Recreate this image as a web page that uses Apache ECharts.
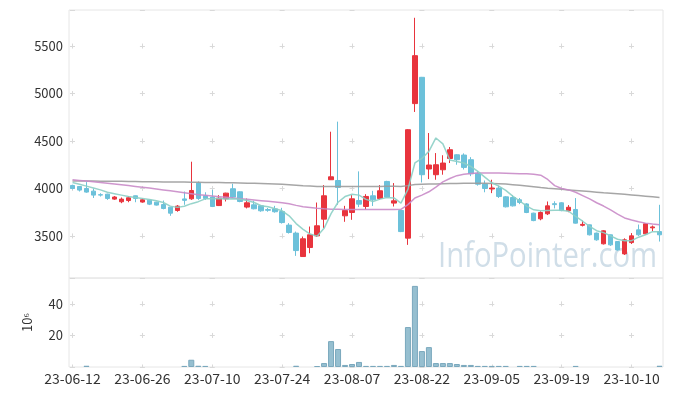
<!DOCTYPE html>
<html><head><meta charset="utf-8">
<script src="https://cdn.jsdelivr.net/npm/echarts@6/dist/echarts.min.js"></script>
<style>html,body{margin:0;padding:0;background:#fff}#c{width:673px;height:396px}</style>
</head><body><div id="c"></div>
<script>
const dates = ['23-06-12','23-06-13','23-06-14','23-06-15','23-06-16','23-06-19','23-06-20','23-06-21','23-06-22','23-06-23',
'23-06-26','23-06-27','23-06-28','23-06-29','23-06-30','23-07-03','23-07-04','23-07-05','23-07-06','23-07-07',
'23-07-10','23-07-11','23-07-12','23-07-13','23-07-14','23-07-17','23-07-18','23-07-19','23-07-20','23-07-21',
'23-07-24','23-07-25','23-07-26','23-07-27','23-07-28','23-07-31','23-08-01','23-08-02','23-08-03','23-08-04',
'23-08-07','23-08-08','23-08-09','23-08-10','23-08-11','23-08-14','23-08-16','23-08-17','23-08-18','23-08-21',
'23-08-22','23-08-23','23-08-24','23-08-25','23-08-28','23-08-29','23-08-30','23-08-31','23-09-01','23-09-04',
'23-09-05','23-09-06','23-09-07','23-09-08','23-09-11','23-09-12','23-09-13','23-09-14','23-09-15','23-09-18',
'23-09-19','23-09-20','23-09-21','23-09-22','23-09-25','23-09-26','23-09-27','23-10-04','23-10-05','23-10-06',
'23-10-10','23-10-11','23-10-12','23-10-13','23-10-16'];

const opens = [4032,4021,4000,3972,3935,3940,3888,3860,3873,3923, 3857,3877,3856,3831,3803,3768,3890,3891,4057,3923,
3910,3820,3891,3997,3965,3804,3828,3818,3778,3785, 3757,3614,3530,3283,3378,3501,3677,4092,4084,3712,
3747,3873,3810,3923,3894,4074,3846,3768,3477,4894, 5171,4205,4145,4197,4316,4355,4352,4303,4160,4046,
3995,4004,3912,3905,3881,3837,3740,3680,3733,3840, 3849,3766,3779,3612,3617,3530,3417,3512,3441,3311,
3430,3564,3522,3585,3546];
const closes = [4000,3983,3962,3930,3930,3895,3910,3888,3902,3895, 3881,3835,3825,3789,3740,3814,3875,3979,3895,3895,
3810,3898,3951,3909,3863,3849,3786,3765,3770,3755, 3641,3536,3346,3470,3512,3607,3923,4123,4011,3768,
3891,3835,3916,3881,3976,3909,3870,3546,4619,5399, 4145,4247,4250,4268,4408,4303,4222,4155,4045,4000,
4005,3916,3807,3817,3853,3747,3662,3747,3817,3830, 3767,3802,3635,3622,3512,3459,3554,3406,3353,3459,
3501,3512,3628,3595,3512];
const lows = [3990,3968,3955,3900,3915,3880,3880,3845,3855,3855, 3850,3825,3820,3780,3712,3755,3828,3880,3880,3880,
3804,3815,3863,3900,3855,3790,3780,3755,3755,3745, 3630,3525,3290,3280,3318,3490,3582,4090,3828,3649,
3670,3804,3780,3815,3880,3900,3810,3540,3406,4806, 4063,4099,4092,4145,4268,4250,4200,4130,4030,3960,
3951,3900,3800,3810,3835,3740,3655,3665,3720,3790, 3760,3750,3630,3600,3505,3450,3410,3395,3345,3300,
3415,3500,3515,3550,3441];
const highs = [4040,4025,4067,4000,3950,3945,3920,3905,3920,3925, 3895,3880,3860,3873,3805,3825,3968,4282,4074,3960,
3986,3930,3955,4050,3970,3894,3870,3825,3795,3817, 3796,3635,3546,3494,3599,3852,4036,4598,4704,3817,
3930,4180,3940,3975,4036,4081,4057,3775,4625,5798, 5175,4584,4373,4350,4437,4360,4370,4330,4180,4084,
4092,4030,3920,3930,3900,3845,3745,3760,3863,3865, 3855,3825,3899,3660,3620,3535,3560,3515,3445,3475,
3530,3620,3630,3610,3828];
const ma5 = [4063,4045,4025,4005,3985,3960,3945,3930,3915,3905, 3895,3885,3870,3852,3814,3801,3812,3840,3861,3891,
3891,3895,3890,3893,3886,3874,3852,3818,3807,3787, 3765,3712,3630,3570,3520,3498,3580,3735,3855,3915,
3940,3930,3885,3862,3888,3905,3900,3846,3990,4269, 4316,4391,4532,4470,4300,4285,4268,4232,4180,4120,
4060,4025,3980,3920,3868,3815,3775,3765,3768,3770, 3770,3760,3705,3655,3600,3555,3535,3500,3465,3450,
3450,3487,3512,3545,3545];
const ma20 = [4092,4085,4078,4071,4064,4056,4048,4040,4031,4022, 4013,4004,3995,3985,3975,3965,3955,3945,3935,3928,
3921,3914,3907,3900,3893,3886,3879,3872,3865,3858, 3850,3838,3822,3808,3800,3792,3786,3782,3780,3778,
3778,3778,3778,3778,3778,3778,3778,3780,3830,3900, 3930,3965,4015,4070,4105,4135,4150,4158,4162,4162,
4162,4162,4160,4158,4156,4154,4150,4140,4095,4030, 4000,3985,3960,3925,3890,3850,3815,3775,3730,3690,
3668,3650,3635,3625,3617];
const ma60 = [4080,4079,4079,4078,4077,4077,4076,4075,4074,4073, 4072,4071,4070,4069,4068,4068,4067,4066,4065,4064,
4063,4062,4061,4060,4058,4056,4054,4052,4050,4048, 4045,4040,4035,4030,4026,4022,4020,4020,4020,4020,
4020,4020,4021,4021,4022,4023,4023,4020,4030,4042, 4045,4047,4048,4050,4052,4053,4054,4055,4055,4054,
4052,4050,4046,4040,4033,4026,4018,4010,4003,3997, 3991,3985,3979,3973,3967,3961,3955,3950,3944,3938,
3932,3926,3919,3912,3905];
const volumes = [0,0,0.8,0,0,0,0,0,0,0, 0,0,0,0,0,0,0.7,4.6,0.8,0.7,
0,0,0,0,0,0,0,0,0,0, 0,0,0.8,0,0,0.6,2.5,16.4,11.4,1.3,
1.9,3.2,0.7,0.7,0.7,0.7,1.3,0.7,25.3,51.4, 10.1,12.6,2.5,2.5,2.5,1.9,1.3,1.3,0.7,0.7,
0.7,0.7,0.7,0,0.7,0.7,0.7,0,0,0, 0,0,0.7,0,0,0,0,0,0,0,
0,0,0,0,0.8];

const W = 673, gridL = 69, gridR = 10, mainTop = 10, mainH = 268, volTop = 278, volH = 89;
const yMin = 3057, yMax = 5880, vMax = 56.4;
const band = (W - gridL - gridR) / dates.length, dashLen = 5;
const xPeriod = band * 10, xOff = xPeriod - (band / 2 - dashLen / 2);
const yPeriod = 500 * mainH / (yMax - yMin);
const yOff = yPeriod - ((yMax - 5500) * mainH / (yMax - yMin) - dashLen / 2);
const vPeriod = 20 * volH / vMax;
const vOff = vPeriod - ((vMax - 40) * volH / vMax - dashLen / 2);
const gridCol = '#d9d9d9';
const font = 'Noto Sans CJK KR';

const chart = echarts.init(document.getElementById('c'), null, {renderer: 'canvas'});
chart.setOption({
  animation: false,
  graphic: [{
    type: 'text', x: 438, y: 257.6, z: 0, silent: true, scaleX: 0.86,
    style: {text: 'InfoPointer.com', fill: '#d0dee8', font: '34px "Open Sans"', align: 'left', verticalAlign: 'middle'}
  }],
  grid: [
    {left: gridL, right: gridR, top: mainTop, height: mainH, show: true, borderColor: '#e6e6e6', borderWidth: 1},
    {left: gridL, right: gridR, top: volTop, height: volH, show: true, borderColor: '#e6e6e6', borderWidth: 1}
  ],
  xAxis: [
    {type: 'category', data: dates, gridIndex: 0, boundaryGap: true,
     axisLine: {show: false}, axisTick: {show: false}, axisLabel: {show: false},
     splitLine: {show: true, interval: 9, alignWithLabel: true,
       lineStyle: {color: gridCol, width: 1, type: [dashLen, yPeriod - dashLen], dashOffset: yOff}}},
    {type: 'category', data: dates, gridIndex: 1, boundaryGap: true,
     axisLine: {show: false}, axisTick: {show: false},
     axisLabel: {interval: 9, color: '#333', fontSize: 14, fontFamily: font, margin: 5},
     splitLine: {show: true, interval: 9, alignWithLabel: true,
       lineStyle: {color: gridCol, width: 1, type: [dashLen, vPeriod - dashLen], dashOffset: vOff}}}
  ],
  yAxis: [
    {type: 'value', gridIndex: 0, min: yMin, max: yMax, minInterval: 500, maxInterval: 500, scale: true,
     axisLine: {show: false}, axisTick: {show: false},
     axisLabel: {color: '#333', fontSize: 13, fontFamily: font, margin: 6, showMinLabel: false, showMaxLabel: false,
       formatter: v => String(v)},
     splitLine: {show: true, lineStyle: {color: gridCol, width: 1, type: [dashLen, xPeriod - dashLen], dashOffset: xOff}}},
    {type: 'value', gridIndex: 1, min: 0, max: vMax, interval: 20,
     name: '10⁶', nameLocation: 'middle', nameRotate: 90, nameGap: 35,
     nameTextStyle: {color: '#333', fontSize: 13, fontFamily: font},
     axisLine: {show: false}, axisTick: {show: false},
     axisLabel: {color: '#333', fontSize: 13, fontFamily: font, margin: 6, showMinLabel: false, showMaxLabel: false},
     splitLine: {show: true, lineStyle: {color: gridCol, width: 1, type: [dashLen, xPeriod - dashLen], dashOffset: xOff}}}
  ],
  series: [
    {type: 'candlestick', xAxisIndex: 0, yAxisIndex: 0, barWidth: 5,
     data: dates.map((d, i) => [opens[i], closes[i], lows[i], highs[i]]),
     itemStyle: {color: '#e8343d', color0: '#6cc1da', borderColor: '#e8343d', borderColor0: '#6cc1da', borderWidth: 1}},
    {type: 'line', xAxisIndex: 0, yAxisIndex: 0, data: ma60, symbol: 'none', z: 3,
     lineStyle: {color: '#9c9c9c', width: 1.5, opacity: 0.9}},
    {type: 'line', xAxisIndex: 0, yAxisIndex: 0, data: ma20, symbol: 'none', z: 3,
     lineStyle: {color: '#c98bc8', width: 1.5, opacity: 0.9}},
    {type: 'line', xAxisIndex: 0, yAxisIndex: 0, data: ma5, symbol: 'none', z: 3,
     lineStyle: {color: '#8ccfc5', width: 1.5, opacity: 0.9}},
    {type: 'bar', xAxisIndex: 1, yAxisIndex: 1, barWidth: 6,
     data: volumes.map(v => v === 0 ? {value: v, itemStyle: {borderWidth: 0}} : v),
     itemStyle: {color: '#96bfd0', borderColor: '#7aa8bd', borderWidth: 1}}
  ]
});
</script></body></html>
